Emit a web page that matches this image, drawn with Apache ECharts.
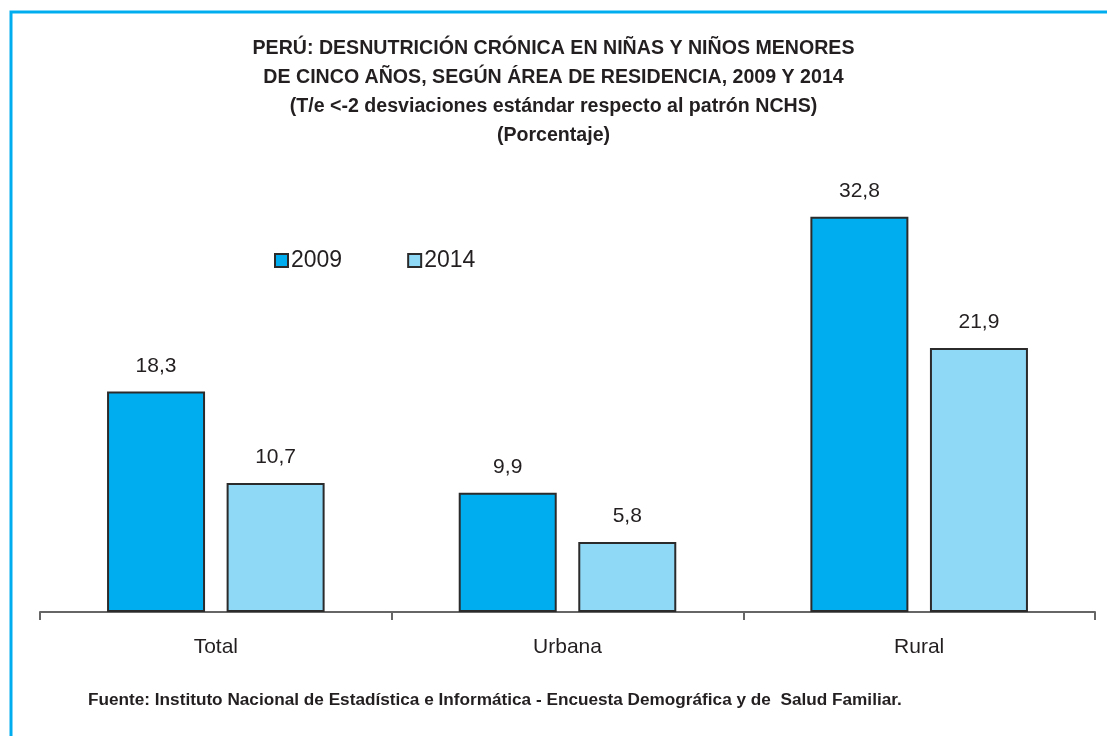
<!DOCTYPE html>
<html>
<head>
<meta charset="utf-8">
<script src="https://cdn.jsdelivr.net/npm/echarts@6/dist/echarts.min.js"></script>
<style>
  html, body { margin: 0; padding: 0; background: #fff; }
  #main { width: 1107px; height: 736px; }
</style>
</head>
<body>
<div id="main"></div>
<script>
// datos
var areas = ['Total', 'Urbana', 'Rural'];
var anios = ['2009', '2014'];
var v2009 = [18.3, 9.9, 32.8];
var v2014 = [10.7, 5.8, 21.9];

var fuente = "'Liberation Sans Narrow', 'Arial Narrow', 'Liberation Sans', sans-serif";
var titulo = 'PERÚ: DESNUTRICIÓN CRÓNICA EN NIÑAS Y NIÑOS MENORES\n' +
    'DE CINCO AÑOS, SEGÚN ÁREA DE RESIDENCIA, 2009 Y 2014\n' +
    '(T/e <-2 desviaciones estándar respecto al patrón NCHS)\n' +
    '(Porcentaje)';

var myChart = echarts.init(document.getElementById('main'));

// etiqueta con coma decimal
function coma(p) {
    return p.value.toFixed(1).replace('.', ',');
}

var option = {
    backgroundColor: '#fff',
    animation: false,
    title: {
        text: titulo,
        left: 'center',
        top: 29,
        textStyle: {
            fontFamily: fuente,
            fontSize: 19.6,
            fontWeight: 'bold',
            color: '#231f20',
            lineHeight: 29
        }
    },
    legend: {
        data: anios,
        left: 269,
        top: 244,
        itemWidth: 13,
        itemHeight: 13,
        itemGap: 65,
        icon: 'rect',
        textStyle: {
            fontFamily: fuente,
            fontSize: 23,
            color: '#231f20',
            padding: [0, 0, 0, -2]
        }
    },
    grid: {
        left: 40,
        right: 12,
        top: 130,
        bottom: 124,
        containLabel: false
    },
    xAxis: {
        type: 'category',
        data: areas,
        axisLine: { lineStyle: { color: '#666', width: 2 } },
        axisTick: { show: true, length: 8, lineStyle: { color: '#666', width: 2 } },
        axisLabel: {
            margin: 25,
            fontFamily: fuente,
            fontSize: 21,
            color: '#231f20'
        }
    },
    yAxis: {
        type: 'value',
        min: 0,
        max: 40,
        show: false,
        splitLine: { show: false }
    },
    series: [
        {
            name: '2009',
            type: 'bar',
            data: v2009,
            barWidth: 98,
            barGap: '22%',
            itemStyle: { color: '#00aeef', borderColor: '#2b2b2b', borderWidth: 2 },
            label: {
                show: true,
                position: 'top',
                distance: 15,
                formatter: coma,
                fontFamily: fuente,
                fontSize: 21,
                color: '#231f20'
            }
        },
        {
            name: '2014',
            type: 'bar',
            data: v2014,
            barWidth: 98,
            itemStyle: { color: '#8fd8f6', borderColor: '#2b2b2b', borderWidth: 2 },
            label: {
                show: true,
                position: 'top',
                distance: 15,
                formatter: coma,
                fontFamily: fuente,
                fontSize: 21,
                color: '#231f20'
            }
        }
    ],
    graphic: [
        {
            // marco celeste (arriba e izquierda)
            type: 'polyline',
            shape: { points: [[11, 736], [11, 12], [1107, 12]] },
            style: { stroke: '#00aeef', lineWidth: 3, fill: null }
        },
        {
            type: 'text',
            left: 88,
            top: 692,
            style: {
                text: 'Fuente: Instituto Nacional de Estadística e Informática - Encuesta Demográfica y de  Salud Familiar.',
                font: 'bold 17.2px ' + fuente,
                fill: '#231f20'
            }
        }
    ]
};

myChart.setOption(option);
</script>
</body>
</html>
